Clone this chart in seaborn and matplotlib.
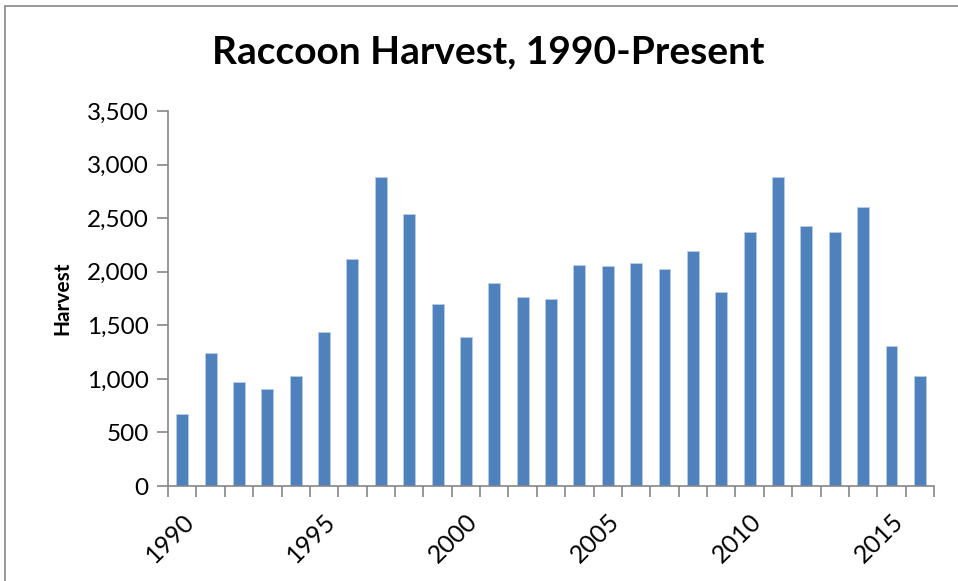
import numpy as np
import pandas as pd
import matplotlib
matplotlib.use("Agg")
import matplotlib.pyplot as plt
from matplotlib.patches import Rectangle
from matplotlib.ticker import FuncFormatter, FixedLocator
import seaborn as sns

# ── Данные ───────────────────────────────────────────────────────────────────
years = list(range(1990, 2017))
harvest = [670, 1240, 975, 908, 1030, 1440, 2116, 2881, 2536, 1696,
           1388, 1895, 1764, 1742, 2060, 2053, 2081, 2025, 2190, 1808,
           2368, 2881, 2430, 2374, 2601, 1304, 1030]
label_years = [1990, 1995, 2000, 2005, 2010, 2015]

BAR = '#4F81BD'
AXIS = '#868686'

sns.set_theme(style='white')
plt.rcParams['font.family'] = ['Lato', 'DejaVu Sans']
plt.rcParams['text.color'] = 'black'
plt.rcParams['xtick.labelcolor'] = 'black'
plt.rcParams['ytick.labelcolor'] = 'black'
plt.rcParams['axes.labelcolor'] = 'black'

df = pd.DataFrame({'year': [str(y) for y in years], 'harvest': harvest})

fig = plt.figure(figsize=(9.58, 5.81), dpi=100)
ax = fig.add_axes([0.1754, 0.1635, 0.7996, 0.6455])

sns.barplot(data=df, x='year', y='harvest', color=BAR, width=0.42,
            edgecolor='#B9CDE5', linewidth=0.6, saturation=1, ax=ax)

ax.set_ylim(0, 3500)
ax.set_xlim(-0.5, len(years) - 0.5)
ax.set_yticks(np.arange(0, 3501, 500))
ax.yaxis.set_major_formatter(FuncFormatter(lambda v, p: f'{int(v):,}'))

# подписи лет каждые 5 лет, засечки на границах категорий
pos = [years.index(y) for y in label_years]
ax.xaxis.set_major_locator(FixedLocator(pos))
ax.set_xticklabels([str(y) for y in label_years], rotation=45, ha='right',
                   rotation_mode='anchor')
ax.xaxis.set_minor_locator(FixedLocator(np.arange(-0.5, len(years), 1)))
ax.tick_params(axis='x', which='major', length=0, pad=17, labelsize=18)
ax.tick_params(axis='x', which='minor', length=8, width=1.2, color=AXIS,
               direction='out', bottom=True)
ax.tick_params(axis='y', length=8, width=1.2, color=AXIS, direction='out',
               left=True, labelsize=17.5, pad=6)

for s in ['top', 'right']:
    ax.spines[s].set_visible(False)
for s in ['left', 'bottom']:
    ax.spines[s].set_color(AXIS)
    ax.spines[s].set_linewidth(1.2)

ax.set_xlabel('')
ax.set_ylabel('Harvest', fontsize=15, fontweight='bold', labelpad=10)

fig.suptitle('Raccoon Harvest, 1990-Present', fontsize=28, fontweight='bold',
             x=0.51, y=0.94, color='black')

# рамка области диаграммы
fig.patches.append(Rectangle((5 / 958, -0.01), 1.0, 1 - 6 / 581 + 0.01,
                             transform=fig.transFigure, fill=False,
                             edgecolor=AXIS, linewidth=1.2))

fig.savefig('out.png', dpi=100)
